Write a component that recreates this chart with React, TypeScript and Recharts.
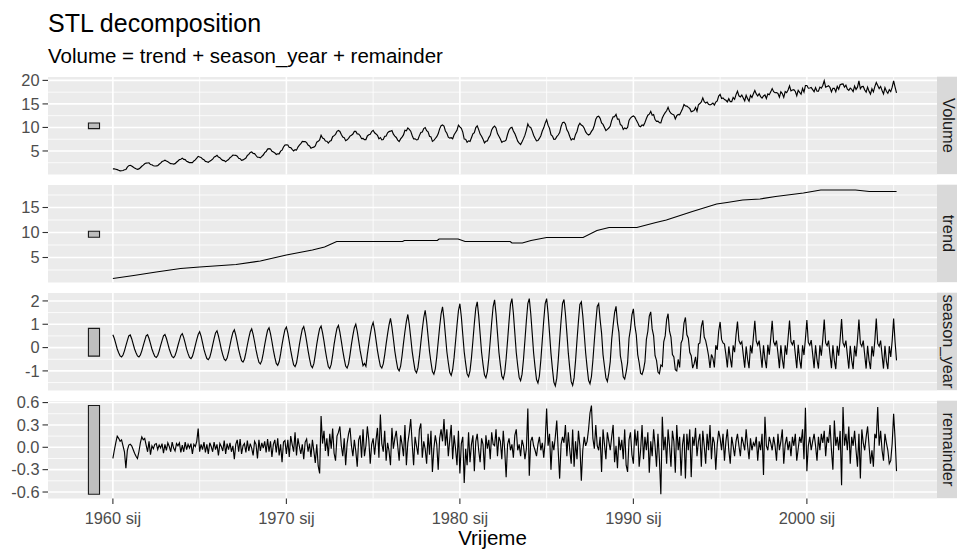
import React from 'react';
import { LineChart, Line, XAxis, YAxis, CartesianGrid, ReferenceArea } from 'recharts';

// ---------- data (monthly, starting January 1960) ----------
const START_YEAR = 1960;

const volume = [
  1.20,1.20,1.13,1.04,0.90,0.77,0.80,0.85,1.00,1.05,1.56,1.88,
  1.96,1.80,1.58,1.36,1.21,1.09,1.19,1.44,1.75,1.98,2.27,2.43,
  2.44,2.47,2.12,2.06,1.85,1.81,1.83,1.88,2.18,2.42,2.75,2.87,
  3.05,2.86,2.73,2.50,2.30,2.28,2.21,2.31,2.60,2.86,3.17,3.25,
  3.48,3.22,3.16,2.80,2.68,2.52,2.53,2.53,2.88,3.10,3.47,3.86,
  3.72,3.63,3.28,3.14,2.79,2.72,2.59,2.84,3.03,3.25,3.70,3.85,
  4.06,3.69,3.57,3.23,2.99,2.94,2.70,3.00,3.17,3.57,3.79,4.12,
  4.10,4.07,3.88,3.45,3.37,3.00,3.10,3.30,3.51,4.05,4.27,4.68,
  4.79,4.46,4.43,4.04,3.66,3.67,3.55,3.85,4.14,4.65,4.88,5.40,
  5.49,5.43,4.93,4.78,4.58,4.25,4.41,4.38,4.97,5.18,5.84,6.26,
  6.29,6.27,5.73,5.73,5.34,5.00,5.28,5.18,5.83,6.24,6.54,7.03,
  6.99,7.00,6.78,6.26,6.08,5.60,5.74,5.81,6.09,6.88,7.05,7.36,
  8.34,7.74,7.60,7.11,7.07,6.67,7.08,7.21,8.03,8.26,8.53,9.18,
  9.35,9.14,8.50,7.95,7.84,7.17,7.37,7.68,8.15,8.36,8.60,9.15,
  9.15,8.64,8.60,8.24,7.61,7.66,7.40,7.42,8.19,8.45,8.53,9.14,
  9.40,8.86,8.62,8.33,7.58,7.85,7.37,7.44,8.11,8.18,8.85,9.12,
  9.21,9.34,8.56,8.17,7.87,7.32,7.02,7.56,7.94,8.42,9.39,9.28,
  9.88,9.59,9.21,8.29,7.57,7.57,7.34,7.44,8.26,8.93,9.04,9.76,
  9.98,9.30,9.06,8.13,7.99,7.04,7.24,7.65,8.04,8.64,9.70,10.38,
  10.53,10.31,9.25,8.76,7.93,7.73,7.81,7.59,8.44,8.94,9.42,10.50,
  10.13,9.82,9.00,7.53,7.49,6.83,7.15,7.00,7.80,8.64,8.91,9.97,
  10.34,9.53,8.59,8.12,7.52,6.73,7.06,7.14,7.84,8.33,9.48,10.00,
  10.27,9.88,8.70,8.14,7.54,6.82,7.07,7.08,7.33,8.55,9.45,9.91,
  10.04,9.23,8.69,7.93,7.08,6.66,6.36,6.96,7.62,8.36,9.44,10.76,
  10.12,10.00,9.27,8.34,7.72,7.16,7.22,7.67,8.23,9.23,9.92,10.92,
  11.62,10.49,9.81,8.45,8.18,7.48,7.50,8.05,8.39,8.90,10.20,11.03,
  11.12,10.74,9.50,8.96,8.07,7.32,7.62,7.44,8.51,9.15,10.35,10.87,
  10.51,10.33,9.83,9.04,8.63,8.39,8.61,9.17,9.58,10.47,11.73,12.28,
  12.39,11.94,10.94,10.64,9.99,9.34,9.60,9.88,10.31,11.49,12.25,12.30,
  12.79,11.77,11.79,10.61,10.40,9.59,9.89,9.71,10.02,11.50,12.00,12.30,
  12.44,12.19,11.57,11.02,10.29,10.16,10.55,10.39,11.04,11.91,12.60,12.81,
  13.41,12.58,12.74,11.67,11.29,11.33,11.02,10.97,12.01,12.66,13.14,13.53,
  14.29,13.42,12.99,12.82,12.68,11.81,12.50,12.76,12.69,13.32,13.99,14.88,
  14.57,14.53,14.26,14.04,13.35,13.46,13.62,14.26,13.46,14.83,15.08,15.44,
  16.29,15.47,15.18,15.38,14.91,14.78,14.94,15.19,14.76,15.40,15.64,16.67,
  17.02,16.16,16.28,15.92,15.78,15.44,16.11,15.48,15.49,16.37,15.98,16.98,
  17.70,16.72,16.48,16.89,16.26,15.65,16.84,16.12,15.56,16.82,16.36,17.16,
  17.87,17.12,16.67,17.18,16.56,16.22,16.68,16.91,16.14,17.13,16.94,17.56,
  18.26,17.59,17.37,17.42,17.23,16.43,17.58,17.19,16.38,17.64,17.39,17.96,
  18.84,17.78,17.96,18.04,17.65,16.74,17.90,17.47,17.06,18.29,17.52,18.91,
  18.91,18.34,18.39,18.48,18.05,17.60,18.47,17.70,17.69,18.56,18.33,18.91,
  19.92,18.58,18.72,18.86,18.50,17.58,18.30,18.31,17.60,18.72,18.11,19.07,
  19.21,19.24,18.57,18.98,18.14,17.88,18.36,18.09,17.60,18.80,18.08,18.56,
  19.88,18.21,18.69,18.71,17.94,17.49,18.56,17.67,17.06,18.22,17.56,18.68,
  19.56,18.92,18.27,18.72,17.84,17.12,18.46,17.68,17.24,18.04,17.62,18.55,
  19.89,18.57,17.33,
];

const trendTime = [
  1960.0, 1961.2, 1962.5, 1963.9, 1965.0, 1967.1, 1968.5, 1970.0, 1971.5, 1972.2,
  1972.9, 1976.7, 1976.8, 1978.7, 1978.8, 1979.9, 1980.3, 1982.9, 1983.0, 1983.6,
  1984.1, 1985.0, 1987.1, 1987.9, 1988.6, 1990.2, 1991.3, 1991.9, 1993.4, 1994.8,
  1995.4, 1996.3, 1997.3, 1998.2, 1999.8, 2000.8, 2002.8, 2003.6, 2005.17,
];
const trendValue = [
  0.8, 1.4, 2.1, 2.8, 3.1, 3.6, 4.3, 5.5, 6.5, 7.1,
  8.2, 8.2, 8.4, 8.4, 8.7, 8.7, 8.2, 8.2, 7.9, 7.9,
  8.4, 9.0, 9.0, 10.4, 11.0, 11.0, 12.0, 12.5, 14.2, 15.7,
  16.0, 16.5, 16.7, 17.2, 17.9, 18.5, 18.5, 18.2, 18.2,
];

const season = [
  .55,.39,.17,-.06,-.22,-.36,-.40,-.32,-.14,.08,.30,.50,
  .54,.38,.16,-.06,-.22,-.36,-.40,-.32,-.14,.08,.30,.50,
  .55,.39,.17,-.06,-.23,-.38,-.42,-.34,-.15,.08,.30,.50,
  .56,.40,.17,-.06,-.24,-.39,-.43,-.34,-.15,.09,.31,.52,
  .60,.43,.19,-.07,-.26,-.42,-.47,-.38,-.16,.09,.34,.56,
  .68,.49,.21,-.08,-.29,-.47,-.52,-.42,-.18,.11,.38,.63,
  .72,.50,.22,-.08,-.31,-.50,-.56,-.45,-.20,.11,.40,.65,
  .76,.53,.23,-.09,-.34,-.56,-.62,-.50,-.22,.11,.42,.68,
  .80,.57,.25,-.10,-.39,-.63,-.70,-.56,-.25,.12,.45,.74,
  .85,.60,.26,-.11,-.42,-.68,-.76,-.61,-.27,.13,.47,.77,
  .88,.62,.26,-.12,-.45,-.74,-.82,-.66,-.29,.13,.48,.79,
  .90,.63,.27,-.13,-.47,-.77,-.86,-.69,-.30,.14,.50,.81,
  .92,.64,.28,-.14,-.50,-.81,-.90,-.72,-.32,.14,.51,.83,
  .95,.66,.28,-.13,-.48,-.79,-.88,-.70,-.31,.14,.52,.85,
  1.00,.70,.30,-.12,-.45,-.78,-.68,-.80,-.29,.15,.55,.90,
  1.08,.76,.32,-.13,-.48,-.79,-.88,-.70,-.31,.16,.59,.97,
  1.25,.88,.38,-.15,-.55,-.90,-1.00,-.80,-.35,.19,.69,1.12,
  1.42,.99,.43,-.16,-.59,-.97,-1.08,-.86,-.38,.21,.78,1.28,
  1.60,1.12,.48,-.17,-.63,-1.03,-1.14,-.91,-.40,.24,.88,1.44,
  1.75,1.23,.53,-.18,-.65,-1.07,-1.19,-.95,-.42,.26,.96,1.58,
  1.88,1.32,.56,-.19,-.69,-1.13,-1.25,-1.00,-.44,.28,1.03,1.69,
  1.96,1.37,.59,-.20,-.72,-1.17,-1.30,-1.04,-.46,.29,1.08,1.76,
  2.05,1.44,.62,-.20,-.74,-1.22,-1.35,-1.08,-.47,.31,1.13,1.85,
  2.10,1.47,.63,-.21,-.78,-1.28,-1.42,-1.14,-.50,.32,1.16,1.89,
  2.10,1.47,.63,-.23,-.84,-1.37,-1.52,-1.22,-.53,.32,1.16,1.89,
  2.10,1.47,.63,-.25,-.90,-1.48,-1.64,-1.31,-.57,.32,1.16,1.89,
  2.06,1.44,.62,-.24,-.89,-1.46,-1.62,-1.30,-.57,.31,1.13,1.85,
  1.96,1.37,.59,-.23,-.85,-1.40,-1.55,-1.24,-.54,.29,1.08,1.76,
  1.88,1.20,.62,-.30,-.80,-1.30,-1.45,-1.10,-.60,.35,.95,1.50,
  1.77,1.05,.65,-.35,-.70,-1.25,-1.35,-1.05,-.65,.40,.80,1.40,
  1.66,.95,.55,-.30,-.65,-1.10,-1.15,-.95,-.60,.35,.70,1.35,
  1.53,.80,.50,-.35,-.55,-1.05,-1.12,-.75,-.80,.25,.50,1.20,
  1.45,.70,.45,-.30,-.40,-.95,-1.00,-.50,-.85,.20,.35,1.05,
  1.29,.55,.40,-.20,-.35,-.88,-.70,-.40,-.92,.15,.20,.90,
  1.17,.45,.30,.00,-.35,-.87,-.30,-.45,-.85,.10,-.10,.70,
  1.10,.35,.20,.15,-.30,-.85,.05,-.45,-.85,.10,-.20,.55,
  1.12,.30,.15,.25,-.30,-.86,.05,-.50,-.88,.10,-.25,.45,
  1.15,.28,.10,.30,-.25,-.86,.10,-.50,-.88,.12,-.30,.40,
  1.15,.25,.10,.30,-.25,-.88,.10,-.50,-.90,.10,-.30,.40,
  1.16,.25,.12,.32,-.28,-.88,.12,-.52,-.90,.10,-.32,.38,
  1.18,.22,.10,.32,-.28,-.88,.10,-.52,-.90,.10,-.35,.35,
  1.20,.20,.08,.30,-.30,-.88,.10,-.55,-.92,.08,-.35,.35,
  1.22,.20,.05,.30,-.32,-.90,.08,-.55,-.92,.08,-.38,.32,
  1.20,.18,.05,.30,-.32,-.90,.08,-.55,-.92,.06,-.38,.30,
  1.24,.18,.05,.30,-.32,-.90,.08,-.58,-.92,.06,-.40,.30,
  1.24,.25,-.55,
];

const remainder = [
  -.15,-.04,.06,.15,.12,.08,.10,.02,-.06,-.28,-.04,.03,
  .04,.02,-.03,-.08,-.12,-.15,-.06,.06,.14,.10,.12,.03,
  -.06,.08,-.10,.02,-.02,.04,.05,-.03,.03,-.01,.05,-.08,
  .04,-.04,.06,.01,-.06,.07,-.01,-.05,.05,.02,.06,-.07,
  .03,-.06,.07,-.03,.04,-.01,.05,-.09,.04,.01,.08,.25,
  -.06,.04,-.03,.07,-.07,.04,-.09,.06,.01,-.06,.07,-.03,
  .04,-.11,.05,.01,-.05,.09,-.09,.05,-.03,.06,-.06,.02,
  -.16,.04,.10,-.06,.11,-.09,.02,.05,-.07,.09,-.05,.05,
  -.01,-.11,.08,.04,-.15,.10,-.05,.06,-.01,.08,-.07,.11,
  -.06,.08,-.13,.04,.10,-.07,.12,-.11,.04,-.20,.07,.09,
  -.09,.10,-.13,.15,.04,-.06,.20,-.11,.12,.01,-.09,.04,
  -.16,.07,.11,-.06,.05,-.13,.10,-.05,-.21,.04,-.25,-.35,
  .42,.05,.22,-.05,.12,-.12,.18,-.02,.25,-.08,-.18,.15,
  .20,.28,.02,-.12,.12,-.24,.05,.18,.26,.02,-.12,.10,
  -.05,-.26,.10,.16,-.14,.24,-.12,.02,.28,.10,-.22,.04,
  .12,-.10,.10,.26,-.14,.44,.05,-.06,.22,-.18,.06,-.05,
  -.24,.26,-.02,.12,.22,.02,-.18,.16,.04,-.12,.30,-.24,
  .06,.20,.38,.05,-.24,.14,.02,-.10,.24,.32,-.14,.08,
  -.02,-.22,.18,-.10,.22,-.33,-.02,.16,.04,-.30,.12,.24,
  .08,.38,.02,.24,-.12,.10,.30,-.16,.16,-.02,-.24,.22,
  -.35,.05,.14,-.48,-.02,-.24,.20,-.20,.04,.16,-.32,.08,
  .18,-.04,-.20,.12,.04,-.30,.16,-.02,.10,-.16,.20,.04,
  .02,.24,-.12,.14,.08,-.16,.22,-.04,-.40,.04,.12,-.04,
  .04,-.14,.16,.24,-.04,.04,-.12,.10,.02,-.16,-.02,.52,
  -.38,.08,.14,.02,-.04,-.12,.04,.14,-.04,.06,-.14,.08,
  .52,.02,.18,-.30,.08,-.04,.14,.36,-.04,-.42,.04,.14,
  .06,.30,-.12,.20,-.04,-.22,.24,-.26,.08,-.16,.22,.02,
  -.45,-.04,.14,.02,.08,.24,.46,.56,.12,-.02,.30,.02,
  -.04,.14,-.33,.24,.04,-.16,.20,.08,-.04,.14,.30,-.20,
  .02,-.28,.14,-.04,.10,-.16,.24,-.24,-.33,.10,.20,-.10,
  -.22,.24,.02,.22,-.26,-.04,.30,-.16,.14,-.04,.20,-.34,
  .08,-.12,.24,.02,-.26,.18,-.16,-.63,.41,-.04,.14,-.22,
  .24,.02,-.26,.22,.08,-.34,.30,-.04,.14,-.38,.04,.18,
  -.42,.18,-.04,.24,-.40,.14,.02,.26,-.12,.08,.18,-.26,
  .22,.02,-.22,.18,-.04,.30,-.16,.14,.06,-.30,.04,.22,
  .12,-.04,.18,-.18,.08,.24,-.04,-.22,.14,.02,-.12,.08,
  .18,.02,-.12,.14,.06,-.04,.24,.02,-.16,.12,-.04,.06,
  .02,.14,-.18,.08,-.04,.18,-.37,.41,.02,-.04,.14,.06,
  -.04,.14,.02,-.18,.18,-.04,.08,.24,-.22,.04,.14,-.04,
  .08,-.12,.14,.02,.18,-.18,-.02,.14,.06,.24,-.16,.53,
  -.32,.02,.14,-.04,.08,.18,.02,-.18,.14,-.04,.18,.06,
  .22,-.12,.14,.06,.30,-.04,-.30,.36,.02,.14,-.04,.22,
  -.51,.54,.02,.18,-.04,.28,-.22,.14,.02,.22,-.04,-.26,
  .18,-.42,.24,.06,-.04,.14,.28,.02,-.22,-.04,-.26,.18,
  .12,.54,.02,.22,-.04,-.18,.18,.06,-.04,-.22,-.18,.05,
  .45,.12,-.32,
];

const panelNames = ['Volume', 'trend', 'season_year', 'remainder'];
const xTickValues = [1960, 1970, 1980, 1990, 2000];
const xTickLabels = ['1960 sij', '1970 sij', '1980 sij', '1990 sij', '2000 sij'];
const xMinorValues = [1965, 1975, 1985, 1995, 2005];

const volumeTicks = [5, 10, 15, 20];
const volumeMinor = [2.5, 7.5, 12.5, 17.5];
const trendTicks = [5, 10, 15];
const trendMinor = [2.5, 7.5, 12.5, 17.5];
const seasonTicks = [-1, 0, 1, 2];
const seasonMinor = [-1.5, -0.5, 0.5, 1.5];
const remainderTicks = [-0.6, -0.3, 0, 0.3, 0.6];
const remainderTickLabels = ['-0.6', '-0.3', '0.0', '0.3', '0.6'];
const remainderMinor = [-0.45, -0.15, 0.15, 0.45];

// scale bars (range of remainder, centred on each panel)
const scaleBarLow = [9.75, 9.05, -0.365, -0.63];
const scaleBarHigh = [10.94, 10.24, 0.825, 0.56];
const scaleBarX = [1958.59, 1959.23];

// ---------- layout ----------
const W = 957;
const FONT = "'Liberation Sans', Arial, Helvetica, sans-serif";
const PLOT_LEFT = 48;
const PLOT_RIGHT = 937;
const PANEL_H = 97.5;
const PANEL_TOPS = [76.7, 184.7, 292.7, 400.7];
const PAD = 12; // extra room above/below each plot so tick labels are not clipped
const X_AXIS_H = 34;
const X_DOMAIN: [number, number] = [1956.26, 2007.5];
const DOMAINS: [number, number][] = [[0.0, 20.72], [0.0, 19.5], [-1.84, 2.34], [-0.687, 0.621]];

const monthly = (arr: number[]) => arr.map((v, i) => ({ t: START_YEAR + i / 12, value: v }));
const volumeData = monthly(volume);
const seasonData = monthly(season);
const remainderData = monthly(remainder);
const trendData = trendTime.map((t, i) => ({ t, value: trendValue[i] }));

const tickStyle = { fill: '#4D4D4D', fontSize: 16.4, fontFamily: FONT };

type PanelProps = {
  idx: number;
  data: { t: number; value: number }[];
  ticks: number[];
  minor: number[];
  labels?: string[];
  showX?: boolean;
};

function Panel({ idx, data, ticks, minor, labels, showX }: PanelProps) {
  const h = PAD + PANEL_H + (showX ? X_AXIS_H : PAD);
  return (
    <div style={{ position: 'absolute', left: 0, top: PANEL_TOPS[idx] - PAD, width: W, height: h }}>
      <LineChart
        width={W}
        height={h}
        margin={{ top: PAD, right: W - PLOT_RIGHT, bottom: showX ? 0 : PAD, left: 0 }}
      >
        <CartesianGrid
          fill="#EBEBEB"
          stroke="#FFFFFF"
          strokeWidth={0.8}
          horizontalValues={minor}
          verticalValues={xMinorValues}
        />
        <CartesianGrid
          stroke="#FFFFFF"
          strokeWidth={1.6}
          horizontalValues={ticks}
          verticalValues={xTickValues}
        />
        <XAxis
          type="number"
          dataKey="t"
          domain={X_DOMAIN}
          allowDataOverflow
          hide={!showX}
          ticks={xTickValues}
          interval={0}
          tickFormatter={(v: number) => xTickLabels[xTickValues.indexOf(v)] ?? ''}
          height={X_AXIS_H}
          tickSize={5.5}
          tickMargin={8.5}
          axisLine={false}
          tickLine={{ stroke: '#333333', strokeWidth: 1.1 }}
          tick={tickStyle}
        />
        <YAxis
          type="number"
          domain={DOMAINS[idx]}
          allowDataOverflow
          ticks={ticks}
          interval={0}
          width={PLOT_LEFT}
          tickSize={5.5}
          tickMargin={3}
          axisLine={false}
          tickLine={{ stroke: '#333333', strokeWidth: 1.1 }}
          tick={tickStyle}
          tickFormatter={(v: number) => (labels ? labels[ticks.indexOf(v)] ?? String(v) : String(v))}
        />
        <ReferenceArea
          x1={scaleBarX[0]}
          x2={scaleBarX[1]}
          y1={scaleBarLow[idx]}
          y2={scaleBarHigh[idx]}
          fill="#BEBEBE"
          fillOpacity={1}
          stroke="#1A1A1A"
          strokeWidth={1.1}
          ifOverflow="visible"
        />
        <Line
          data={data}
          dataKey="value"
          type="linear"
          stroke="#000000"
          strokeWidth={1.15}
          dot={false}
          activeDot={false}
          isAnimationActive={false}
        />
      </LineChart>
    </div>
  );
}

export default function App() {
  return (
    <div style={{ position: 'absolute', left: 0, top: 0, width: W, height: 550, background: '#FFFFFF', overflow: 'hidden', fontFamily: FONT }}>
      <Panel idx={0} data={volumeData} ticks={volumeTicks} minor={volumeMinor} />
      <Panel idx={1} data={trendData} ticks={trendTicks} minor={trendMinor} />
      <Panel idx={2} data={seasonData} ticks={seasonTicks} minor={seasonMinor} />
      <Panel idx={3} data={remainderData} ticks={remainderTicks} minor={remainderMinor} labels={remainderTickLabels} showX />
      <svg width={W} height={550} style={{ position: 'absolute', left: 0, top: 0, pointerEvents: 'none' }}>
        <text x={PLOT_LEFT} y={31.5} fontSize={25} fill="#000000" fontFamily={FONT}>STL decomposition</text>
        <text x={PLOT_LEFT} y={63.3} fontSize={20.5} fill="#000000" fontFamily={FONT}>Volume = trend + season_year + remainder</text>
        {panelNames.map((name, i) => {
          const cy = PANEL_TOPS[i] + PANEL_H / 2;
          return (
            <g key={name}>
              <rect x={PLOT_RIGHT} y={PANEL_TOPS[i]} width={24} height={PANEL_H} fill="#D9D9D9" />
              <text
                x={943}
                y={cy}
                fontSize={16.4}
                fill="#1A1A1A"
                fontFamily={FONT}
                textAnchor="middle"
                transform={`rotate(90, 943, ${cy})`}
              >
                {name}
              </text>
            </g>
          );
        })}
        <text x={(PLOT_LEFT + PLOT_RIGHT) / 2} y={545} fontSize={20.5} fill="#000000" fontFamily={FONT} textAnchor="middle">Vrijeme</text>
      </svg>
    </div>
  );
}
